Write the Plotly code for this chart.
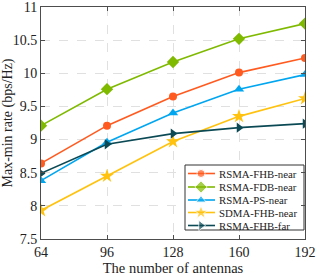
import plotly.graph_objects as go

antennas = [64, 96, 128, 160, 192]
fhb_near = [8.64, 9.21, 9.65, 10.01, 10.23]
fdb_near = [9.21, 9.76, 10.17, 10.52, 10.75]
ps_near = [8.38, 8.96, 9.40, 9.76, 9.98]
sdma_near = [7.93, 8.45, 8.97, 9.35, 9.62]
fhb_far = [8.49, 8.93, 9.09, 9.18, 9.24]

names = ["RSMA-FHB-near", "RSMA-FDB-near", "RSMA-PS-near", "SDMA-FHB-near", "RSMA-FHB-far"]
values = [fhb_near, fdb_near, ps_near, sdma_near, fhb_far]
colors = ["#FF5A1F", "#7FBA00", "#00A6F0", "#FFC20E", "#0B4A55"]
symbols = ["circle", "diamond", "triangle-up", "star", "triangle-right"]
sizes = [8, 9.5, 9, 10.5, 9]

font = "Liberation Serif, Times New Roman, serif"
fig = go.Figure()
for name, vals, color, sym, sz in zip(names, values, colors, symbols, sizes):
    fig.add_trace(go.Scatter(
        x=antennas, y=vals, name=name, mode="lines+markers",
        line=dict(color=color, width=1.6),
        marker=dict(symbol=sym, size=sz, color=color),
        showlegend=False,
    ))

# Manual legend on an overlay axis measured in plot-area pixels
W, H = 264, 232
bx0, bx1, by0, by1 = 144, 263, 9, 74
fig.add_trace(go.Scatter(
    x=[bx0, bx1, bx1, bx0, bx0], y=[by0, by0, by1, by1, by0],
    xaxis="x2", yaxis="y2", mode="lines", fill="toself", fillcolor="white",
    line=dict(color="#333", width=1), showlegend=False, hoverinfo="skip",
    cliponaxis=False,
))
row_y = [65.5, 52, 39, 26.5, 13.5]
for i, (name, color, sym, sz) in enumerate(zip(names, colors, symbols, sizes)):
    fig.add_trace(go.Scatter(
        x=[147, 160, 174], y=[row_y[i]] * 3, xaxis="x2", yaxis="y2",
        mode="lines+markers", line=dict(color=color, width=1.6),
        marker=dict(symbol=sym, size=[0, sz, 0], color=color),
        showlegend=False, hoverinfo="skip", cliponaxis=False,
    ))
    fig.add_annotation(x=176, y=row_y[i], xref="x2", yref="y2", text=name,
                       showarrow=False, xanchor="left", yanchor="middle",
                       font=dict(family=font, size=10.8, color="#222"))

axis_common = dict(
    showline=True, linecolor="#4d4d4d", linewidth=1, mirror="ticks",
    ticks="inside", ticklen=4, tickcolor="#4d4d4d",
    showgrid=True, gridcolor="#e0e0e0", griddash="dash", gridwidth=1,
    zeroline=False, tickfont=dict(family=font, size=14, color="#222"),
    automargin=False, ticklabeloverflow="allow",
)
fig.update_layout(
    width=316, height=277,
    margin=dict(l=41, r=11, t=7, b=38),
    paper_bgcolor="white", plot_bgcolor="white",
    font=dict(family=font, color="#222"),
    xaxis=dict(range=[64, 192], tickvals=antennas,
               title=dict(text="The number of antennas", font=dict(family=font, size=14.5), standoff=2),
               **axis_common),
    yaxis=dict(range=[7.5, 11], tickvals=[7.5, 8, 8.5, 9, 9.5, 10, 10.5, 11],
               ticktext=["7.5", "8", "8.5", "9", "9.5", "10", "10.5", "11"],
               title=dict(text="Max-min rate (bps/Hz)", font=dict(family=font, size=14), standoff=0),
               **axis_common),
    xaxis2=dict(overlaying="x", anchor="y2", range=[0, W], visible=False, fixedrange=True),
    yaxis2=dict(overlaying="y", anchor="x2", range=[0, H], visible=False, fixedrange=True),
    showlegend=False,
    hovermode=False,
)
fig.write_html("out.html", config={"displayModeBar": False, "staticPlot": True},
               post_script="document.body.style.margin='0';document.body.style.padding='0';")
